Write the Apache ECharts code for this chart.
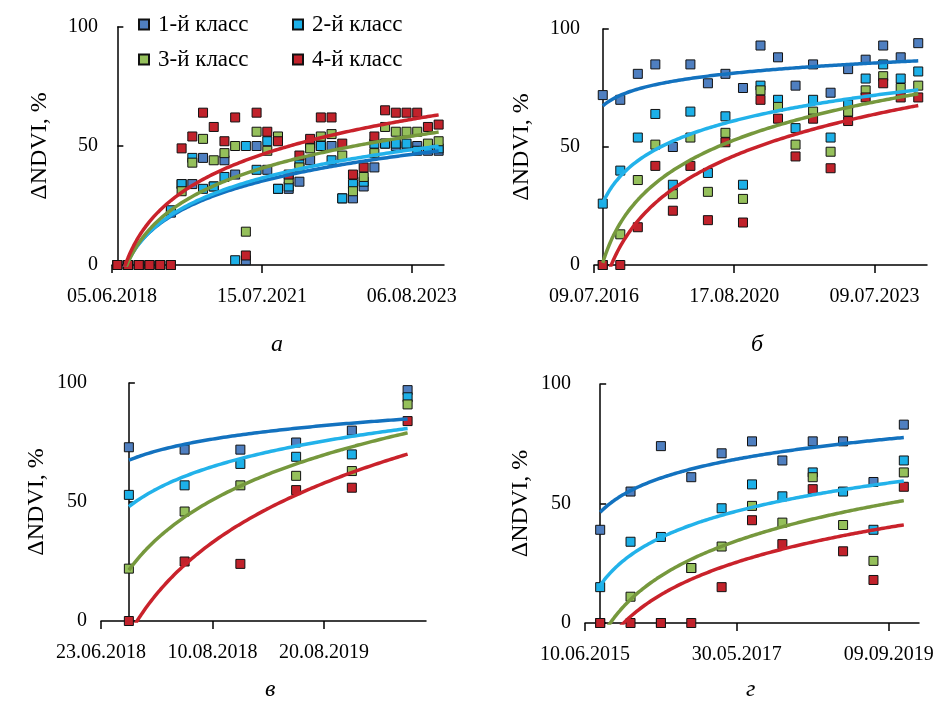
<!DOCTYPE html>
<html>
<head>
<meta charset="utf-8">
<script src="https://cdn.jsdelivr.net/npm/echarts@6/dist/echarts.min.js"></script>
<style>
html,body{margin:0;padding:0;background:#fff;}
#chart{width:940px;height:707px;}
</style>
</head>
<body>
<div id="chart"></div>
<script>
// ---------- DATA ----------
const classNames = ['1-й класс', '2-й класс', '3-й класс', '4-й класс'];

// Panel а (31 observations)
const aLabels = ['05.06.2018', '15.07.2021', '06.08.2023'];
const aClass1 = [0,0,0,0,0,22,34,34,45,33,44,38,2,50,40,32,32,35,44,50,50,28,28,33,41,51,50,50,50,48,48];
const aClass2 = [0,0,0,0,0,23,34,45,32,33,37,2,50,40,52,32,33,43,51,50,44,28,34,35,51,51,51,51,48,49,49];
const aClass3 = [0,0,0,0,0,0,31,43,53,44,47,50,14,56,48,54,36,41,49,54,55,46,31,37,47,58,56,56,56,51,52];
const aClass4 = [0,0,0,0,0,0,49,54,64,58,52,62,4,64,56,52,38,46,53,62,62,51,38,41,54,65,64,64,64,58,59];

// Panel б (19 observations)
const bLabels = ['09.07.2016', '17.08.2020', '09.07.2023'];
const bClass1 = [72,70,81,85,50,85,77,81,75,93,88,76,85,73,83,87,93,88,94];
const bClass2 = [26,40,54,64,34,65,39,63,34,76,70,58,70,54,68,79,85,79,82];
const bClass3 = [0,13,36,51,30,54,31,56,28,74,67,51,65,48,65,74,80,75,76];
const bClass4 = [0,0,16,42,23,42,19,52,18,70,62,46,62,41,61,71,77,71,71];

// Panel в (6 observations)
const vLabels = ['23.06.2018', '10.08.2018', '20.08.2019'];
const vClass1 = [73,72,72,75,80,97];
const vClass2 = [53,57,66,69,70,94];
const vClass3 = [22,46,57,61,63,91];
const vClass4 = [0,25,24,55,56,84];

// Panel г (11 observations)
const gLabels = ['10.06.2015', '30.05.2017', '09.09.2019'];
const gClass1 = [39,55,74,61,71,76,68,76,76,59,83];
const gClass2 = [15,34,36,23,48,58,53,63,55,39,68];
const gClass3 = [0,11,0,23,32,49,42,61,41,26,63];
const gClass4 = [0,0,0,0,15,43,33,56,30,18,57];

const captions = ['а', 'б', 'в', 'г'];
const yName = 'ΔNDVI, %';

// ---------- STYLE ----------
const FONT = '"Liberation Serif", "Times New Roman", serif';
const markerColors = ['#4f7fc0', '#1cb0e8', '#95c05b', '#c1222b'];
const trendColors  = ['#1372bf', '#22b2ea', '#76983d', '#c9222b'];

const panels = [
  {labels: aLabels, series: [aClass1, aClass2, aClass3, aClass4], step: 14, max: 30.5,
   grid: {left: 112, top: 27, width: 332, height: 238}, nameGap: 60, cap: [277, 333]},
  {labels: bLabels, series: [bClass1, bClass2, bClass3, bClass4], step: 8, max: 18.5,
   grid: {left: 594, top: 29, width: 333, height: 236}, nameGap: 60, cap: [757, 333]},
  {labels: vLabels, series: [vClass1, vClass2, vClass3, vClass4], step: 2, max: 5.33,
   grid: {left: 101, top: 383, width: 325, height: 238}, nameGap: 52, cap: [271, 678]},
  {labels: gLabels, series: [gClass1, gClass2, gClass3, gClass4], step: 5, max: 10.5,
   grid: {left: 585, top: 384, width: 334, height: 239}, nameGap: 52, cap: [752, 678]}
];

// Excel-style logarithmic trendline: y = a*ln(x) + b, x = 1..N
function logFit(ys) {
  const n = ys.length;
  let sx = 0, sy = 0, sxx = 0, sxy = 0;
  for (let i = 0; i < n; i++) {
    const lx = Math.log(i + 1);
    sx += lx; sy += ys[i]; sxx += lx * lx; sxy += lx * ys[i];
  }
  const a = (n * sxy - sx * sy) / (n * sxx - sx * sx);
  const b = (sy - a * sx) / n;
  return {a, b};
}
function trendPoints(ys) {
  const {a, b} = logFit(ys);
  const n = ys.length;
  const pts = [];
  const steps = 300;
  for (let s = 0; s <= steps; s++) {
    const x = 1 + (n - 1) * s / steps;
    pts.push([x - 1, a * Math.log(x) + b]);
  }
  return pts;
}

const grids = [], xAxes = [], yAxes = [], series = [], graphics = [];
panels.forEach((p, pi) => {
  grids.push(Object.assign({containLabel: false}, p.grid));
  const ticks = [-0.5, -0.5 + p.step, -0.5 + 2 * p.step];
  xAxes.push({
    type: 'value', gridIndex: pi, min: -0.5, max: p.max,
    axisLine: {show: true, onZero: false, lineStyle: {color: '#000', width: 1.5}},
    axisTick: {show: true, customValues: ticks, length: 8, lineStyle: {color: '#000', width: 1.5}},
    axisLabel: {
      show: true, customValues: ticks, margin: 22,
      fontFamily: FONT, fontSize: 20, color: '#000',
      formatter: function (v) {
        for (let i = 0; i < ticks.length; i++) if (Math.abs(ticks[i] - v) < 1e-6) return p.labels[i];
        return '';
      }
    },
    splitLine: {show: false}
  });
  yAxes.push({
    type: 'value', gridIndex: pi, min: 0, max: 100, interval: 50,
    name: yName, nameLocation: 'middle', nameGap: p.nameGap,
    nameTextStyle: {fontFamily: FONT, fontSize: 24, color: '#000'},
    axisLine: {show: true, lineStyle: {color: '#000', width: 1.5}},
    axisTick: {show: true, inside: true, length: 6, lineStyle: {color: '#000', width: 1.5}},
    axisLabel: {fontFamily: FONT, fontSize: 20, color: '#000', margin: 14},
    splitLine: {show: false}
  });
  p.series.forEach((ys, si) => {
    series.push({
      type: 'scatter', name: classNames[si], xAxisIndex: pi, yAxisIndex: pi,
      symbol: 'rect', symbolSize: 9,
      itemStyle: {color: markerColors[si], borderColor: '#111', borderWidth: 1, opacity: 1},
      data: ys.map((v, i) => [i, v]), z: 2, silent: true
    });
  });
  p.series.forEach((ys, si) => {
    series.push({
      type: 'line', name: classNames[si] + ' (тренд)', xAxisIndex: pi, yAxisIndex: pi,
      showSymbol: false, symbol: 'none', clip: true, smooth: false,
      lineStyle: {color: trendColors[si], width: 3.5},
      data: trendPoints(ys), z: 3, silent: true
    });
  });
  graphics.push({
    type: 'text', left: p.cap[0] - 6, top: p.cap[1],
    style: {text: captions[pi], font: 'italic 24px ' + FONT, fill: '#000'}
  });
});

const legendPos = [[133, 8], [287, 8], [133, 43], [287, 43]];
const legends = classNames.map((nm, i) => ({
  data: [nm], left: legendPos[i][0], top: legendPos[i][1],
  itemWidth: 10, itemHeight: 10, itemGap: 10, selectedMode: false,
  textStyle: {fontFamily: FONT, fontSize: 23, color: '#000', padding: [0, 0, 0, 4]}
}));

const chart = echarts.init(document.getElementById('chart'), null, {renderer: 'canvas'});
chart.setOption({
  animation: false,
  backgroundColor: '#fff',
  legend: legends,
  grid: grids,
  xAxis: xAxes,
  yAxis: yAxes,
  series: series,
  graphic: graphics
});
</script>
</body>
</html>
